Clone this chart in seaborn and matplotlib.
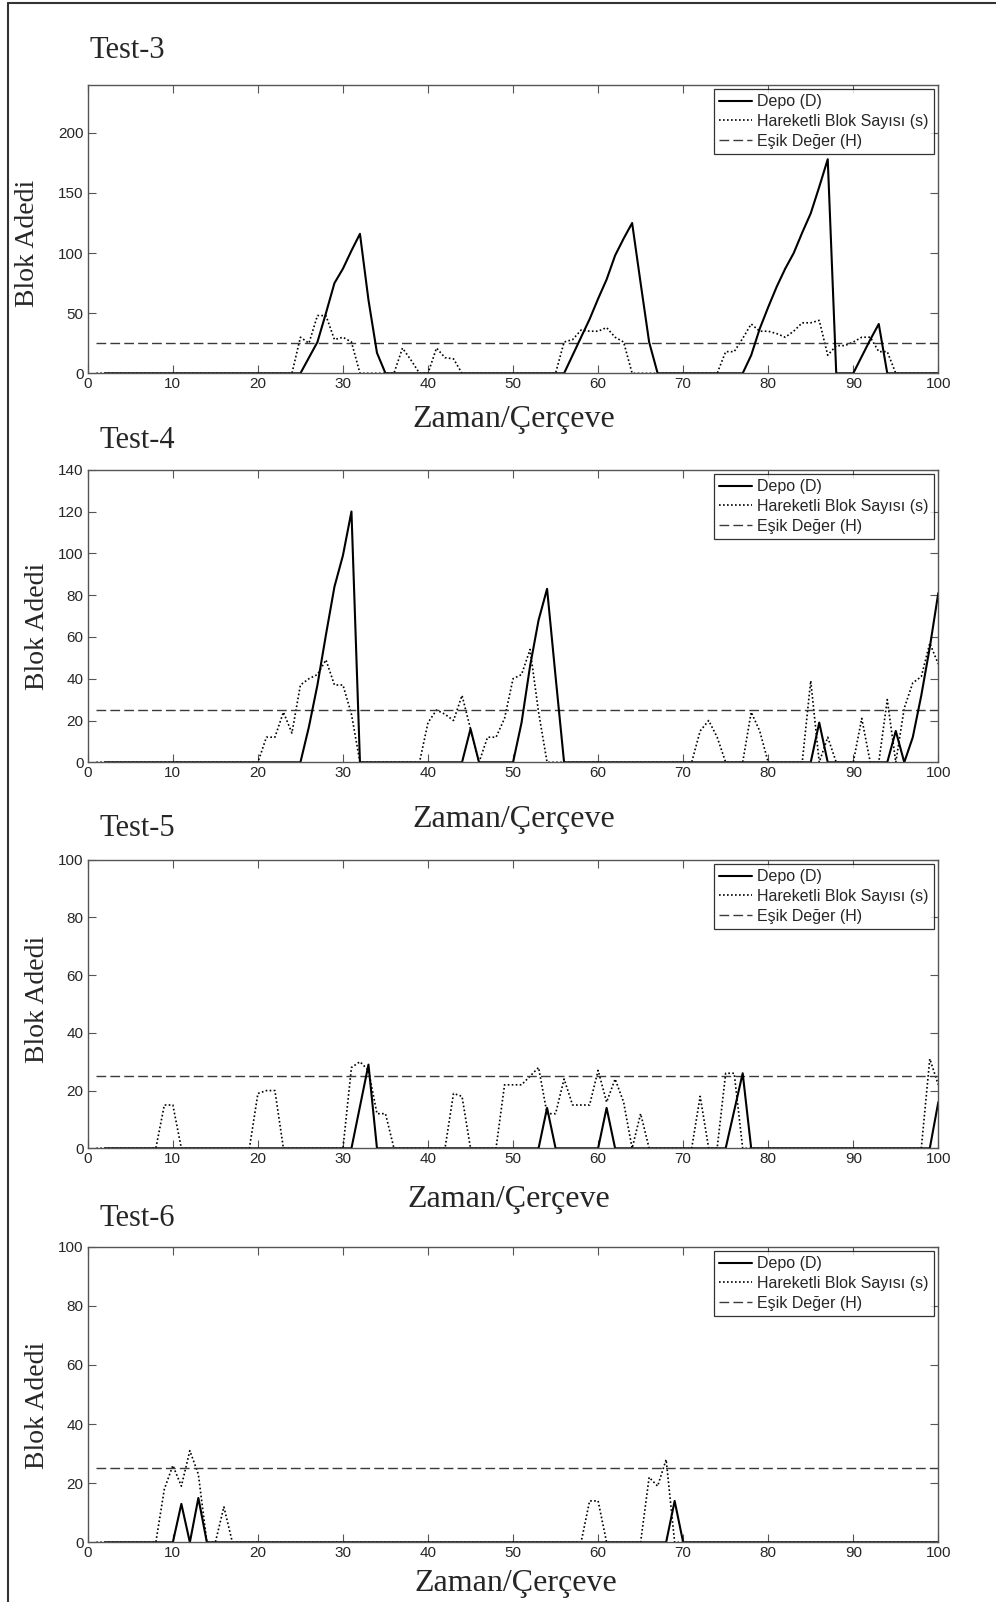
import matplotlib
matplotlib.use("Agg")
import matplotlib.pyplot as plt
from matplotlib.lines import Line2D
import seaborn as sns
import pandas as pd
import numpy as np

# ---- data (vertices of each polyline) ----
# Test-3
depo3_x = [2, 25, 26, 27, 28, 29, 30, 31, 32, 33, 34, 35, 56, 57, 58, 59, 60, 61, 62, 63, 64, 65, 66, 67,
           77, 78, 79, 80, 81, 82, 83, 84, 85, 86, 87, 88, 90, 91, 92, 93, 94, 100]
depo3_y = [0, 0, 13, 26, 50, 75, 87, 102, 116, 61, 17, 0, 0, 15, 30, 45, 62, 78, 98, 112, 125, 75, 26, 0,
           0, 15, 37, 55, 72, 87, 100, 117, 133, 155, 178, 0, 0, 14, 28, 41, 0, 0]
hbs3_x = [1, 24, 25, 26, 27, 28, 29, 30, 31, 32, 36, 37, 38, 39, 40, 41, 42, 43, 44, 55, 56, 57, 58, 59, 60,
          61, 62, 63, 64, 74, 75, 76, 77, 78, 79, 80, 81, 82, 83, 84, 85, 86, 87, 88, 89, 90, 91, 92, 93,
          94, 95, 100]
hbs3_y = [0, 0, 30, 25, 48, 48, 28, 30, 26, 0, 0, 21, 11, 0, 0, 21, 13, 12, 0, 0, 26, 28, 36, 35, 35,
          38, 30, 26, 0, 0, 18, 18, 29, 41, 35, 35, 33, 30, 35, 42, 42, 44, 15, 23, 23, 26, 30, 30, 18,
          18, 0, 0]

# Test-4
depo4_x = [2, 25, 26, 27, 28, 29, 30, 31, 32, 44, 45, 46, 50, 51, 52, 53, 54, 55, 56, 85, 86, 87,
           94, 95, 96, 97, 98, 99, 100]
depo4_y = [0, 0, 17, 37, 61, 84, 99, 120, 0, 0, 16, 0, 0, 19, 46, 68, 83, 41, 0, 0, 19, 0,
           0, 15, 0, 12, 32, 55, 81]
hbs4_x = [1, 20, 21, 22, 23, 24, 25, 26, 27, 28, 29, 30, 31, 32, 39, 40, 41, 42, 43, 44, 45, 46, 47,
          48, 49, 50, 51, 52, 53, 54, 71, 72, 73, 74, 75, 77, 78, 79, 80, 84, 85, 86, 87, 88, 90, 91,
          92, 93, 94, 95, 96, 97, 98, 99, 100]
hbs4_y = [0, 0, 12, 12, 24, 14, 37, 40, 42, 49, 37, 37, 23, 0, 0, 19, 25, 23, 20, 32, 16, 0, 12,
          12, 21, 40, 42, 54, 24, 0, 0, 15, 20, 12, 0, 0, 24, 15, 0, 0, 39, 0, 12, 0, 0, 21,
          0, 0, 30, 0, 26, 38, 41, 57, 47]

# Test-5
depo5_x = [2, 31, 33, 34, 53, 54, 55, 60, 61, 62, 75, 76, 77, 78, 99, 100]
depo5_y = [0, 0, 29, 0, 0, 14, 0, 0, 14, 0, 0, 13, 26, 0, 0, 16]
hbs5_x = [1, 8, 9, 10, 11, 19, 20, 21, 22, 23, 30, 31, 32, 33, 34, 35, 36, 42, 43, 44, 45, 48, 49, 50,
          51, 52, 53, 54, 55, 56, 57, 58, 59, 60, 61, 62, 63, 64, 65, 66, 71, 72, 73, 74, 75, 76, 77,
          98, 99, 100]
hbs5_y = [0, 0, 15, 15, 0, 0, 19, 20, 20, 0, 0, 28, 30, 27, 12, 12, 0, 0, 19, 18, 0, 0, 22, 22,
          22, 25, 28, 12, 12, 24, 15, 15, 15, 27, 16, 24, 16, 0, 12, 0, 0, 18, 0, 0, 26, 26, 0,
          0, 31, 22]

# Test-6
depo6_x = [2, 10, 11, 12, 13, 14, 68, 69, 70, 100]
depo6_y = [0, 0, 13, 0, 15, 0, 0, 14, 0, 0]
hbs6_x = [1, 8, 9, 10, 11, 12, 13, 14, 15, 16, 17, 58, 59, 60, 61, 65, 66, 67, 68, 69, 100]
hbs6_y = [0, 0, 18, 26, 19, 31, 23, 0, 0, 12, 0, 0, 14, 14, 0, 0, 22, 19, 28, 0, 0]

esik = 25
esik_x = [1, 100]

titles = ["Test-3", "Test-4", "Test-5", "Test-6"]
ylims = [240, 140, 100, 100]
ysteps = [50, 20, 20, 20]
ytops = [200, 140, 100, 100]

sns.set_theme(style='ticks')
plt.rcParams['font.family'] = ['Liberation Sans', 'DejaVu Sans']

W, H = 996, 1602
fig = plt.figure(figsize=(W / 100, H / 100), dpi=100)
fig.patch.set_facecolor('white')

# axes boxes in pixels: (top, bottom)
boxes = [(84.7, 373.3), (469.7, 762.3), (859.7, 1148.3), (1246.7, 1542.3)]
left_px, right_px = 87.8, 938.3
title_pos = [(89, 51), (99, 440), (99, 828), (99, 1218)]
xlabel_pos = [(514, 419), (514, 820), (509, 1200), (516, 1583)]
ylabel_pos = [(28, 243), (37, 626), (37, 999), (37, 1405)]

panels = [(depo3_x, depo3_y, hbs3_x, hbs3_y),
          (depo4_x, depo4_y, hbs4_x, hbs4_y),
          (depo5_x, depo5_y, hbs5_x, hbs5_y),
          (depo6_x, depo6_y, hbs6_x, hbs6_y)]

serif = ['Liberation Serif', 'DejaVu Serif']
spine_col = '#555555'

for i, (dx, dy, sx, sy) in enumerate(panels):
    top, bot = boxes[i]
    ax = fig.add_axes([left_px / W, 1 - bot / H, (right_px - left_px) / W, (bot - top) / H])
    sns.lineplot(x=sx, y=sy, ax=ax, color='black', lw=1.2, linestyle=(0, (1, 1.4)),
                 estimator=None, label='Hareketli Blok Sayısı (s)')
    sns.lineplot(x=esik_x, y=[esik, esik], ax=ax, color='#3a3a3a', lw=1.0, linestyle=(0, (7, 3)),
                 estimator=None, label='Eşik Değer (H)')
    sns.lineplot(x=dx, y=dy, ax=ax, color='black', lw=1.5, estimator=None, label='Depo (D)')

    ax.set_xlim(0, 100)
    ax.set_ylim(0, ylims[i])
    ax.set_xticks(np.arange(0, 101, 10))
    ax.set_yticks(np.arange(0, ytops[i] + 1, ysteps[i]))
    ax.tick_params(direction='in', length=6, width=0.8, color=spine_col, labelsize=11,
                   top=True, right=True, pad=3)
    for sp in ax.spines.values():
        sp.set_color(spine_col)
        sp.set_linewidth(1.0)
    ax.set_xlabel('')
    ax.set_ylabel('')

    h, l = ax.get_legend_handles_labels()
    order = [2, 0, 1]
    leg = ax.legend([h[k] for k in order], [l[k] for k in order], loc='upper right',
                    prop={'size': 11.5}, frameon=True, fancybox=False, handlelength=2.1,
                    handletextpad=0.3, borderpad=0.3, labelspacing=0.3,
                    borderaxespad=0.3, bbox_to_anchor=(1.0, 1.0))
    leg.get_frame().set_edgecolor('black')
    leg.get_frame().set_linewidth(0.9)

    fig.text(title_pos[i][0] / W, 1 - title_pos[i][1] / H, titles[i], family=serif,
             fontsize=22, ha='left', va='center')
    fig.text(xlabel_pos[i][0] / W, 1 - xlabel_pos[i][1] / H, 'Zaman/Çerçeve', family=serif,
             fontsize=23, ha='center', va='center')
    fig.text(ylabel_pos[i][0] / W, 1 - ylabel_pos[i][1] / H, 'Blok Adedi', family=serif,
             fontsize=20, ha='center', va='center', rotation=90)

# page frame (left and top edge)
fig.add_artist(Line2D([8 / W, 8 / W], [0, 1 - 3 / H], transform=fig.transFigure,
                      color='#333333', lw=1.5))
fig.add_artist(Line2D([8 / W, 1], [1 - 3 / H, 1 - 3 / H], transform=fig.transFigure,
                      color='#333333', lw=1.5))

fig.savefig('out.png', dpi=100)
